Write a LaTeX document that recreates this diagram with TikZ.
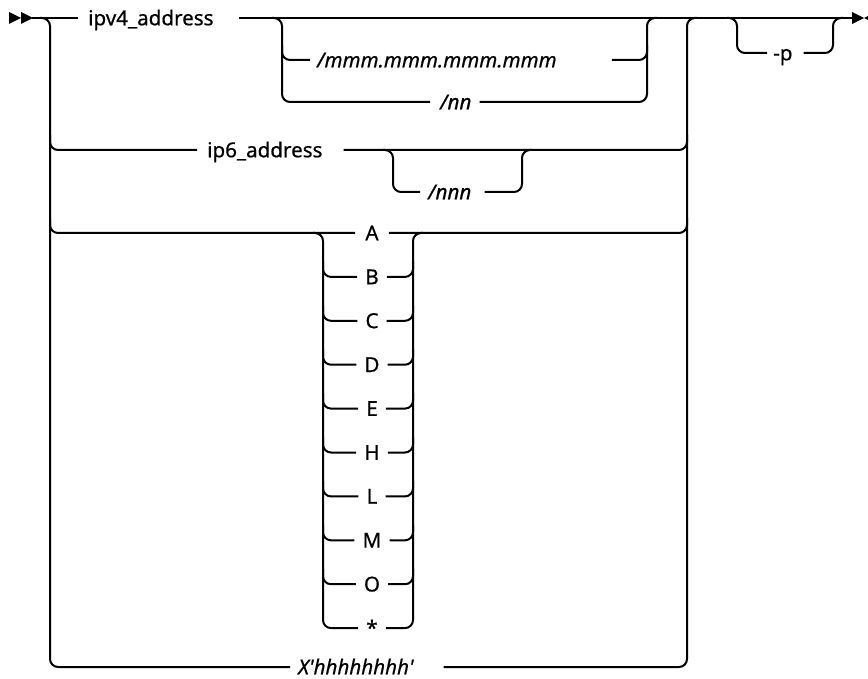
\documentclass[tikz,border=0pt]{standalone}
\usepackage{fontspec}
\newfontfamily\rrfont{Noto Sans}[FakeBold=0.6]
\begin{document}
\begin{tikzpicture}[x=1pt,y=-1pt,
  rr/.style={line width=2pt, rounded corners=8pt},
  lbl/.style={inner sep=0pt, text height=14.6pt, text depth=0pt, font=\rrfont\fontsize{20.6}{24}\selectfont},
  ilbl/.style={lbl, font=\rrfont\fontsize{20.6}{24}\selectfont\itshape}]
\useasboundingbox (0,0) rectangle (868,679);

% labels
\node[lbl,anchor=west] (ipv4) at (88,18) {ipv4\_address};
\node[ilbl,anchor=west] (mmm) at (317,60) {/mmm.mmm.mmm.mmm};
\node[ilbl,anchor=west] (nn) at (440,102) {/nn};
\node[lbl,anchor=west] (p) at (773,53) {-p};
\node[lbl,anchor=west] (ip6) at (207,150) {ip6\_address};
\node[ilbl,anchor=west] (nnn) at (428,192) {/nnn};
\node[ilbl,anchor=west] (xh) at (298,667) {X'hhhhhhhh'};
\foreach \t/\n [count=\i from 0] in {A/A,B/B,C/C,D/D,E/E,H/H,L/L,M/M,O/O,*/S}
  \node[lbl] (l\n) at (372,{233+43.9*\i}) {\t};

% start and end markers
\coordinate (s) at (32,18);
\coordinate (e) at (852,18);
\fill (9,12) -- (21,18) -- (9,24) -- cycle;
\fill (21,12) -- (33,18) -- (21,24) -- cycle;
\fill (852,12) -- (864,18) -- (852,24) -- cycle;
\fill (876,12) -- (864,18) -- (876,24) -- cycle;

% main line
\draw[rr] (s) -- ([xshift=-10pt]ipv4.west);
\draw[rr] ([xshift=25pt]ipv4.east) -- (e);

% left trunk and alternatives
\draw[rr] (40,18) -- (50,18) -- (50,667) -- ([xshift=-8pt]xh.west);
\draw[rr] (50,135) |- ([xshift=-10pt]ip6.west);
\draw[rr] (50,218) |- ([xshift=-10pt]lA.west);

% right trunk
\draw[rr] ([xshift=30pt]xh.east) -- (687,667) -- (687,18) -- (697,18);
\draw[rr] ([xshift=21pt]ip6.east) -| (687,135);
\draw[rr] ([xshift=10pt]lA.east) -| (687,218);

% /nnn option
\draw[rr] (383,150) -- (393,150) -- (393,192) -- ([xshift=-8pt]nnn.west);
\draw[rr] ([xshift=13pt]nnn.east) -- (522,192) -- (522,150) -- (532,150);

% mask options
\draw[rr] (272,18) -- (282,18) -- (282,102) -- ([xshift=-10pt]nn.west);
\draw[rr] (282,45) |- ([xshift=-7pt]mmm.west);
\draw[rr] ([xshift=8pt]nn.east) -- (647,102) -- (647,18) -- (657,18);
\draw[rr] ([xshift=55pt]mmm.east) -| (647,45);

% -p option
\draw[rr] (727,18) -- (737,18) -- (737,53) -- ([xshift=-6pt]p.west);
\draw[rr] ([xshift=11pt]p.east) -- (833,53) -- (833,18) -- (843,18);

% letter stack
\draw[rr] (313,233) -- (323,233) -- (323,628.1) -- ([xshift=-8pt]lS.west);
\draw[rr] ([xshift=8pt]lS.east) -- (413,628.1) -- (413,233) -- (423,233);
\foreach \n [count=\i from 1] in {B,C,D,E,H,L,M,O} {
  \draw[rr] (323,{233+43.9*\i-15}) |- ([xshift=-8pt]l\n.west);
  \draw[rr] ([xshift=8pt]l\n.east) -| (413,{233+43.9*\i-15});
}
\end{tikzpicture}
\end{document}
